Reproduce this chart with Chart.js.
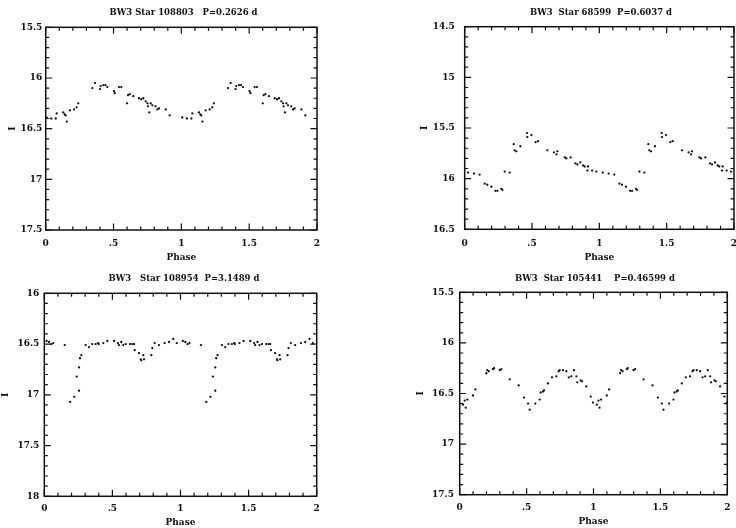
<!DOCTYPE html>
<html><head><meta charset="utf-8">
<script src="https://cdn.jsdelivr.net/npm/chart.js@4.4.0/dist/chart.umd.min.js"></script>
<style>
html,body{margin:0;padding:0;background:#fff;overflow:hidden;width:736px;height:528px;}
canvas{position:absolute;}
</style></head><body>
<canvas id="c1"></canvas><canvas id="c2"></canvas><canvas id="c3"></canvas><canvas id="c4"></canvas>
<script>
// ---- data (phase 0-1, plotted over two cycles) ----
const xTickLabels = ['0', '.5', '1', '1.5', '2'];
const xAxisTitle = 'Phase';
const yAxisTitle = 'I';

const titles = [
  'BW3 Star 108803   P=0.2626 d',
  'BW3  Star 68599  P=0.6037 d',
  'BW3   Star 108954  P=3.1489 d',
  'BW3  Star 105441    P=0.46599 d'
];

const yRange1 = [15.5, 17.5];
const yRange2 = [14.5, 16.5];
const yRange3 = [16, 18];
const yRange4 = [15.5, 17.5];
const yTicks1 = ['15.5', '16', '16.5', '17', '17.5'];
const yTicks2 = ['14.5', '15', '15.5', '16', '16.5'];
const yTicks3 = ['16', '16.5', '17', '17.5', '18'];
const yTicks4 = ['15.5', '16', '16.5', '17', '17.5'];

const star108803Phase = [0.007,0.041,0.074,0.081,0.130,0.140,0.147,0.155,0.179,0.209,0.228,0.240,0.344,0.363,0.400,0.405,0.425,0.440,0.454,0.503,0.509,0.540,0.557,0.600,0.607,0.620,0.646,0.688,0.705,0.720,0.737,0.750,0.754,0.764,0.774,0.786,0.810,0.823,0.835,0.885,0.914];
const star108803Mag   = [16.39,16.40,16.40,16.35,16.34,16.36,16.37,16.43,16.32,16.31,16.29,16.25,16.10,16.05,16.11,16.08,16.07,16.07,16.09,16.13,16.15,16.09,16.09,16.25,16.17,16.16,16.18,16.20,16.21,16.20,16.23,16.25,16.28,16.34,16.25,16.27,16.28,16.31,16.30,16.31,16.37];

const star68599Phase = [0.025,0.069,0.111,0.149,0.168,0.198,0.228,0.243,0.272,0.280,0.297,0.334,0.364,0.371,0.384,0.413,0.463,0.465,0.495,0.527,0.545,0.614,0.663,0.681,0.688,0.743,0.755,0.787,0.822,0.837,0.859,0.879,0.891,0.911,0.916,0.946,0.978];
const star68599Mag   = [15.94,15.95,15.96,16.05,16.06,16.08,16.12,16.12,16.10,16.11,15.93,15.94,15.66,15.72,15.73,15.68,15.55,15.59,15.57,15.64,15.63,15.72,15.74,15.76,15.73,15.79,15.80,15.79,15.85,15.86,15.84,15.87,15.88,15.92,15.88,15.92,15.93];

const star108954Phase = [0.017,0.035,0.052,0.066,0.150,0.190,0.220,0.238,0.255,0.255,0.262,0.272,0.304,0.328,0.352,0.377,0.394,0.400,0.433,0.463,0.512,0.541,0.548,0.565,0.580,0.598,0.629,0.646,0.659,0.664,0.695,0.708,0.712,0.727,0.732,0.786,0.793,0.810,0.842,0.884,0.916,0.947,0.972];
const star108954Mag   = [16.47,16.48,16.50,16.49,16.51,17.07,17.02,16.82,16.73,16.96,16.64,16.61,16.51,16.53,16.50,16.50,16.49,16.50,16.49,16.47,16.47,16.49,16.51,16.48,16.51,16.50,16.50,16.50,16.50,16.56,16.59,16.65,16.66,16.61,16.65,16.61,16.54,16.49,16.51,16.49,16.48,16.45,16.49];

const star105441Phase = [0.025,0.037,0.045,0.057,0.099,0.117,0.199,0.206,0.217,0.249,0.256,0.299,0.311,0.374,0.441,0.481,0.511,0.523,0.565,0.598,0.605,0.623,0.630,0.660,0.690,0.722,0.740,0.747,0.772,0.797,0.815,0.834,0.854,0.872,0.879,0.904,0.914,0.946,0.979,0.996];
const star105441Mag   = [16.61,16.57,16.64,16.56,16.52,16.46,16.30,16.27,16.28,16.26,16.25,16.27,16.26,16.36,16.42,16.54,16.60,16.66,16.60,16.56,16.49,16.48,16.47,16.40,16.34,16.33,16.28,16.27,16.27,16.28,16.34,16.33,16.27,16.33,16.39,16.37,16.38,16.43,16.53,16.59];

// ---- layout of the four panels ----
const panels = [
  {id:'c1', left:0,   top:0,   W:368, H:264, L:45.7, T:27.3, R:317,   B:230,   yPad:3.4, yTP:6.9,  xTP:1.3, xPad:8,   tx:183.5, ty:12.7,
   phase:star108803Phase, mag:star108803Mag, yr:yRange1, yt:yTicks1, title:titles[0]},
  {id:'c2', left:368, top:0,   W:380, H:264, L:96.7, T:26.7, R:366,   B:229.3, yPad:10,  yTP:51.3, xTP:1.3, xPad:8.5, tx:233,   ty:13,
   phase:star68599Phase, mag:star68599Mag, yr:yRange2, yt:yTicks2, title:titles[1]},
  {id:'c3', left:0,   top:264, W:368, H:264, L:44.3, T:29.3, R:316.7, B:232.3, yPad:5,   yTP:0.6,  xTP:0.3, xPad:7,   tx:184,   ty:15,
   phase:star108954Phase, mag:star108954Mag, yr:yRange3, yt:yTicks3, title:titles[2]},
  {id:'c4', left:368, top:264, W:380, H:264, L:91.7, T:28.3, R:359.3, B:230.7, yPad:5.7, yTP:47.6, xTP:0.9, xPad:8,   tx:227,   ty:15,
   phase:star105441Phase, mag:star105441Mag, yr:yRange4, yt:yTicks4, title:titles[3]}
];

const INK = '#111';
const tickFont = {family:'DejaVu Serif', size:9, weight:'bold'};

const framePlugin = {
  id:'frameTicks',
  afterDatasetsDraw(chart, args, opts){
    const {ctx, chartArea:a, scales:{x, y}} = chart;
    ctx.save();
    ctx.strokeStyle = INK;
    ctx.lineWidth = 1.2;
    for (let k = 0; k <= 20; k++) {
      const px = x.getPixelForValue(x.min + k * 0.1);
      const len = (k % 5 === 0) ? 6.5 : 3.5;
      ctx.beginPath();
      ctx.moveTo(px, a.bottom); ctx.lineTo(px, a.bottom - len);
      ctx.moveTo(px, a.top); ctx.lineTo(px, a.top + len);
      ctx.stroke();
    }
    for (let k = 0; k <= 20; k++) {
      const py = y.getPixelForValue(y.min + k * 0.1);
      const len = (k % 5 === 0) ? 6.5 : 3.5;
      ctx.beginPath();
      ctx.moveTo(a.left, py); ctx.lineTo(a.left + len, py);
      ctx.moveTo(a.right, py); ctx.lineTo(a.right - len, py);
      ctx.stroke();
    }
    ctx.lineWidth = 1.5;
    ctx.strokeRect(a.left, a.top, a.right - a.left, a.bottom - a.top);
    ctx.fillStyle = INK;
    ctx.font = 'bold 8.5px "DejaVu Serif"';
    ctx.textAlign = 'center';
    ctx.textBaseline = 'middle';
    ctx.fillText(opts.text, opts.x, opts.y);
    ctx.restore();
  }
};

panels.forEach(p => {
  const cv = document.getElementById(p.id);
  cv.style.left = p.left + 'px';
  cv.style.top = p.top + 'px';
  cv.style.width = p.W + 'px';
  cv.style.height = p.H + 'px';
  cv.width = p.W; cv.height = p.H;

  const pts = [];
  for (let c = 0; c < 2; c++) {
    p.phase.forEach((ph, i) => pts.push({x: ph + c, y: p.mag[i]}));
  }

  new Chart(cv, {
    type:'scatter',
    data:{datasets:[{data:pts, pointRadius:1.15, pointHoverRadius:1.15, backgroundColor:INK, borderWidth:0}]},
    options:{
      responsive:false, animation:false, events:[],
      layout:{padding:{left:0, top:p.T, right:p.W - p.R, bottom:0}},
      plugins:{legend:{display:false}, tooltip:{enabled:false},
               frameTicks:{text:p.title, x:p.tx, y:p.ty}},
      scales:{
        x:{type:'linear', min:0, max:2,
           grid:{display:false, drawTicks:false}, border:{display:false},
           ticks:{stepSize:0.5, autoSkip:false, maxRotation:0, padding:p.xPad, color:INK, font:tickFont,
                  callback:v => xTickLabels[Math.round(v / 0.5)]},
           title:{display:true, text:xAxisTitle, color:INK, font:tickFont, padding:{top:0, bottom:p.xTP}},
           afterFit:s => { s.height = p.H - p.B; }},
        y:{type:'linear', min:p.yr[0], max:p.yr[1], reverse:true,
           grid:{display:false, drawTicks:false}, border:{display:false},
           ticks:{stepSize:0.5, autoSkip:false, padding:p.yPad, color:INK, font:tickFont,
                  callback:v => p.yt[Math.round((v - p.yr[0]) / 0.5)]},
           title:{display:true, text:yAxisTitle, color:INK, font:tickFont, padding:{top:p.yTP, bottom:0}},
           afterFit:s => { s.width = p.L; }}
      }
    },
    plugins:[framePlugin]
  });
});
</script>
</body></html>
